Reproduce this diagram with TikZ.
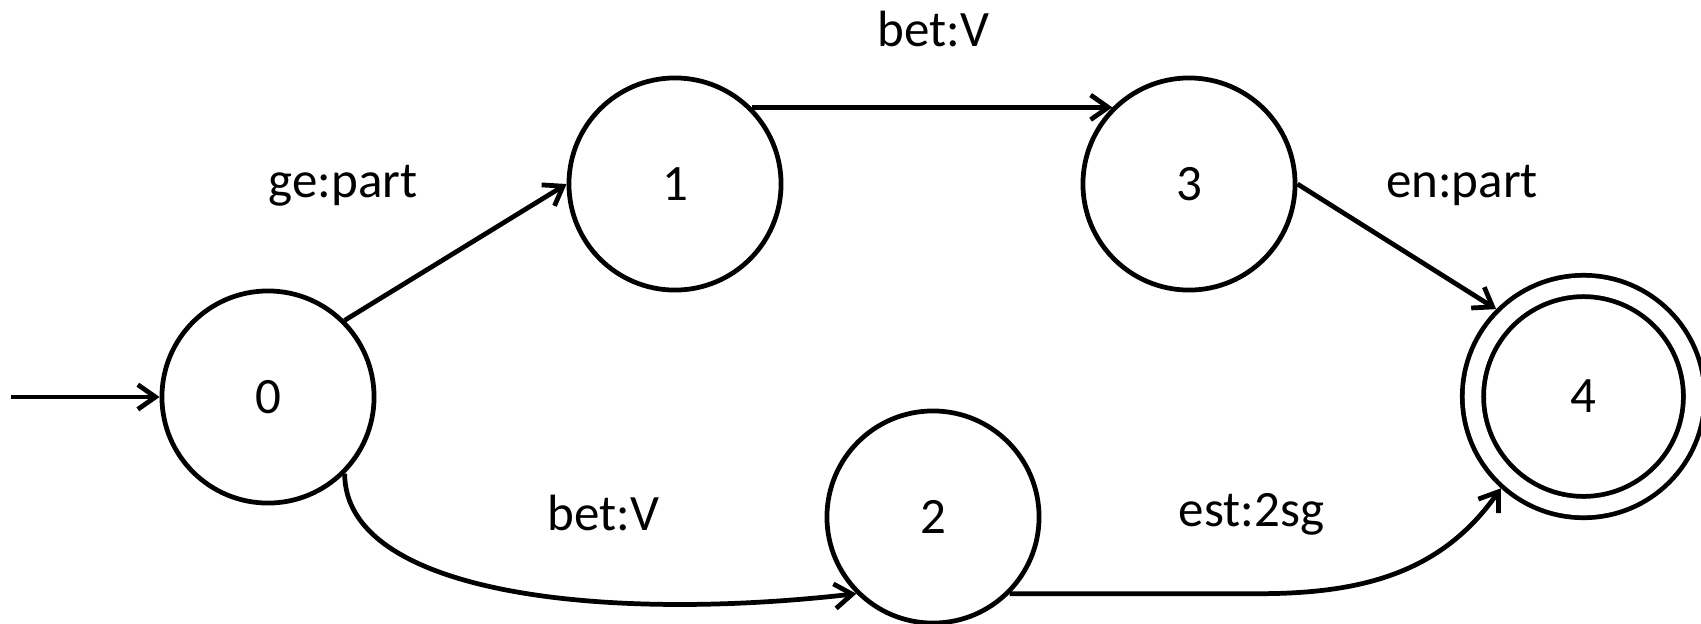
\documentclass[tikz,border=0pt]{standalone}
\usepackage{fontspec}
\setmainfont{Carlito}
\usetikzlibrary{arrows.meta}
\begin{document}
\begin{tikzpicture}[x=0.01cm,y=0.01cm,line width=1.35pt,
	>={Straight Barb[length=5pt,width=7pt]},
	every node/.style={font=\fontsize{14.5}{17}\selectfont},
	st/.style={draw,circle,minimum size=2.12cm,inner sep=0pt},
	fin/.style={st,minimum size=2.21cm,double,double distance=4.7pt,outer sep=3.7pt},
	lbl/.style={anchor=base}]
		\useasboundingbox (0,0) rectangle (1701,623);
		\clip (0,0) rectangle (1701,623);
		% states
		\node[st] (s0) at (268,226) {0};
		\node[st] (s1) at (675,439) {1};
		\node[st] (s3) at (1189,439) {3};
		\node[st] (s2) at (933,106) {2};
		\node[fin] (s4) at (1583.5,226.5) {4};
		\coordinate (start) at (11,226);
		% transitions
		\draw[->] (start) -- (s0.west);
		\draw[->] (s0.45) -- (s1.west);
		\draw[->] (s1.45) -- (s3.135);
		\draw[->] (s3.east) -- (s4.135);
		\draw[->] (s0.-45) .. controls (345,30) and (600,0) .. (s2.-135);
		\draw[->] (s2.-45) -- ++(249,0) to[out=0,in=-125] (s4.-132);
		% labels
		\node[lbl] (l01) at (343,426) {ge:part};
		\node[lbl] (l13) at (933.5,577) {bet:V};
		\node[lbl] (l34) at (1462,426) {en:part};
		\node[lbl] (l02) at (603.5,93) {bet:V};
		\node[lbl] (l24) at (1251.5,97) {est:2sg};
\end{tikzpicture}
\end{document}
